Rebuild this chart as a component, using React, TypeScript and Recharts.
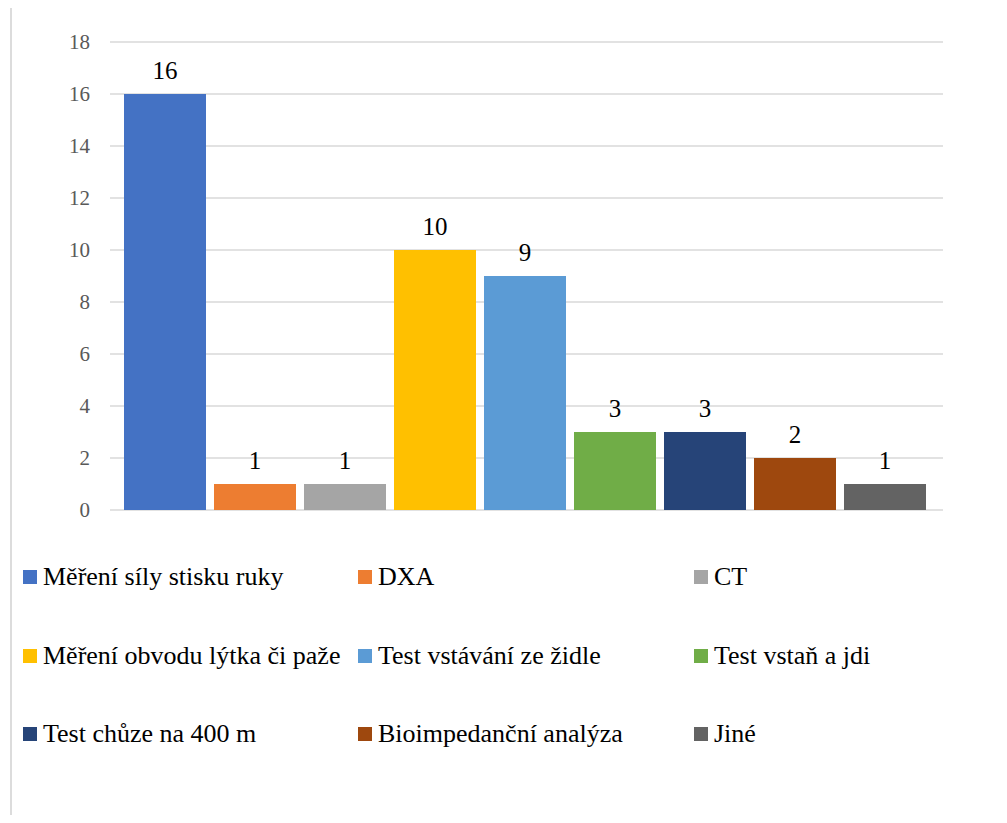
import React from "react";
import { BarChart, Bar, XAxis, YAxis, CartesianGrid, LabelList } from "recharts";

const seriesNames = [
  "Měření síly stisku ruky",
  "DXA",
  "CT",
  "Měření obvodu lýtka či paže",
  "Test vstávání ze židle",
  "Test vstaň a jdi",
  "Test chůze na 400 m",
  "Bioimpedanční analýza",
  "Jiné",
];
const seriesValues = [16, 1, 1, 10, 9, 3, 3, 2, 1];
const seriesColors = [
  "#4472C4",
  "#ED7D31",
  "#A5A5A5",
  "#FFC000",
  "#5B9BD5",
  "#70AD47",
  "#264478",
  "#9E480E",
  "#636363",
];
const yTicks = [0, 2, 4, 6, 8, 10, 12, 14, 16, 18];

const row: Record<string, any> = { name: "" };
seriesValues.forEach((v, i) => {
  row["s" + i] = v;
});
const data = [row];

const FONT = "Liberation Serif, DejaVu Serif, Times New Roman, Times, serif";
const legendCols = [23, 358, 694];
const legendRow0 = 577;
const legendRowStep = 78.5;

export default function App() {
  return (
    <div
      style={{
        position: "relative",
        width: 1007,
        height: 823,
        margin: -8,
        overflow: "hidden",
        background: "#fff",
        fontFamily: FONT,
      }}
    >
      <div
        style={{
          position: "absolute",
          left: 10,
          top: 5,
          width: 1200,
          height: 1000,
          border: "2px solid #dcdcdc",
          boxSizing: "border-box",
        }}
      />
      <div style={{ position: "absolute", left: 0, top: 0, fontFamily: FONT }}>
        <BarChart
          width={1007}
          height={540}
          data={data}
          margin={{ top: 42, right: 64, bottom: 30, left: 10 }}
          barCategoryGap={14}
          barGap={8}
          style={{ fontFamily: FONT }}
        >
          <CartesianGrid vertical={false} stroke="#d9d9d9" strokeWidth={1.5} />
          <XAxis dataKey="name" hide />
          <YAxis
            width={100}
            domain={[0, 18]}
            ticks={yTicks}
            interval={0}
            axisLine={false}
            tickLine={false}
            tickMargin={14}
            tick={{ fill: "#595959", fontSize: 21, fontFamily: FONT }}
          />
          {seriesValues.map((_, i) => (
            <Bar
              key={i}
              dataKey={"s" + i}
              name={seriesNames[i]}
              fill={seriesColors[i]}
              isAnimationActive={false}
            >
              <LabelList
                dataKey={"s" + i}
                position="top"
                offset={15}
                fill="#000"
                fontSize={25}
                fontFamily={FONT}
                style={{ fontFamily: FONT }}
              />
            </Bar>
          ))}
        </BarChart>
      </div>
      {seriesNames.map((name, i) => {
        const col = i % 3;
        const r = Math.floor(i / 3);
        return (
          <div
            key={i}
            style={{
              position: "absolute",
              left: legendCols[col],
              top: legendRow0 + r * legendRowStep - 16,
              height: 32,
              display: "flex",
              alignItems: "center",
              whiteSpace: "nowrap",
              fontSize: 26,
              color: "#000",
              fontFamily: FONT,
            }}
          >
            <span
              style={{
                display: "inline-block",
                width: 14,
                height: 14,
                background: seriesColors[i],
                marginRight: 6,
              }}
            />
            <span>{name}</span>
          </div>
        );
      })}
    </div>
  );
}
